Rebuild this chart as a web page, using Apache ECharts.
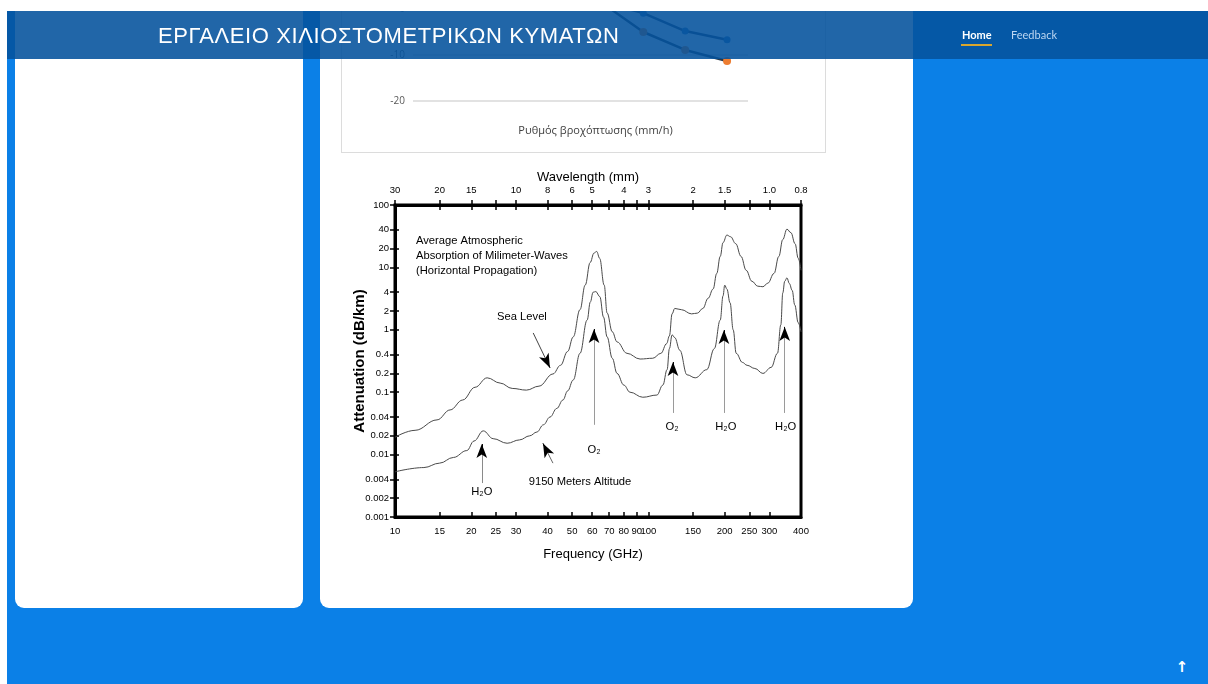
<!DOCTYPE html>
<html>
<head>
<meta charset="utf-8">
<script src="https://cdn.jsdelivr.net/npm/echarts@6/dist/echarts.min.js"></script>
<style>
html,body{margin:0;padding:0;width:1208px;height:684px;overflow:hidden;background:#0b80e7;}
#page{position:absolute;left:0;top:0;width:1208px;height:684px;overflow:hidden;background:#0b80e7;}
.card{position:absolute;background:#fff;border-radius:9px;}
#leftCard{left:15px;top:-100px;width:288px;height:708px;}
#midCard{left:320px;top:-300px;width:593px;height:908px;}
#miniBox{position:absolute;left:341px;top:-250px;width:483px;height:401px;border:1px solid #dcdcdc;background:#fff;}
#mini{position:absolute;left:0;top:0;width:483px;height:401px;}
#main{position:absolute;left:330px;top:160px;width:490px;height:410px;}
#header{position:absolute;left:7px;top:11px;width:1201px;height:48px;background:rgba(4,82,157,0.886);z-index:5;}
#title{position:absolute;left:151px;top:14px;line-height:22px;color:#fff;font-family:'Liberation Sans',Arial,sans-serif;font-size:22px;letter-spacing:0.6px;white-space:nowrap;}
#navHome{position:absolute;left:955px;top:17px;font-family:Lato,sans-serif;font-size:11px;font-weight:bold;color:#fff;line-height:14px;}
#navLine{position:absolute;left:954px;top:33px;width:31px;height:2px;background:#d9a62e;}
#navFeed{position:absolute;left:1004px;top:17px;font-family:Lato,sans-serif;font-size:11px;color:#bcd6f2;line-height:14px;}
#topWhite{position:absolute;left:0;top:0;width:1208px;height:11px;background:#fff;z-index:9;}
#leftWhite{position:absolute;left:0;top:0;width:7px;height:684px;background:#fff;z-index:9;}
#toTop{position:absolute;left:1173px;top:657px;width:18px;height:20px;text-align:center;color:#fff;font-family:'DejaVu Sans',sans-serif;font-weight:bold;font-size:15px;line-height:20px;}
</style>
</head>
<body>
<div id="page">
  <div class="card" id="leftCard"></div>
  <div class="card" id="midCard"></div>
  <div id="miniBox"><div id="mini"></div></div>
  <div id="main"></div>
  <div id="header">
    <div id="title">ΕΡΓΑΛΕΙΟ ΧΙΛΙΟΣΤΟΜΕΤΡΙΚΩΝ ΚΥΜΑΤΩΝ</div>
    <div id="navHome">Home</div>
    <div id="navLine"></div>
    <div id="navFeed">Feedback</div>
  </div>
  <div id="toTop">↑</div>
  <div id="topWhite"></div>
  <div id="leftWhite"></div>
</div>
<script>
// ---------- data: main chart ----------
const freqTicks = [10, 15, 20, 25, 30, 40, 50, 60, 70, 80, 90, 100, 150, 200, 250, 300, 400];
const attenTicks = [0.001, 0.002, 0.004, 0.01, 0.02, 0.04, 0.1, 0.2, 0.4, 1, 2, 4, 10, 20, 40, 100];
const wavelengthLabelFreqs = [10, 15, 20, 30, 40, 50, 60, 80, 100, 150, 200, 300, 400];
const wavelengthLabels = ['30', '20', '15', '10', '8', '6', '5', '4', '3', '2', '1.5', '1.0', '0.8'];

const seaLevel = [
  [10, 0.019], [12, 0.0245], [14.65, 0.036], [16.5, 0.052], [18.5, 0.075], [20.7, 0.12],
  [23.1, 0.17], [26, 0.14], [29, 0.115], [33, 0.108], [37, 0.125], [42, 0.196], [45, 0.27],
  [48, 0.45], [50.5, 0.77], [53.7, 2.1], [56.3, 5.2], [58.9, 12], [61, 17], [62.5, 18],
  [64.2, 14], [66.9, 5.2], [68.7, 1.86], [72, 0.93], [75.2, 0.64], [82.3, 0.42], [92.7, 0.34],
  [104, 0.35], [112, 0.42], [118, 0.6], [121, 0.8], [124, 1.8], [127, 2.2], [135, 2.1],
  [148, 1.8], [156, 1.85], [164, 2.2], [172, 3.2], [180, 4.5], [186, 8], [192, 15], [197, 25],
  [204, 33], [211, 31], [221, 24], [232, 15], [243, 9], [256, 6], [270, 5.0], [283, 4.9],
  [296, 5.6], [313, 8], [327, 15], [339, 28], [352, 41], [365, 36], [379, 24], [390, 14], [400, 9]
];
const altitude9150 = [
  [10, 0.0053], [13, 0.0062], [15, 0.0073], [17, 0.009], [19.2, 0.0116], [20.5, 0.0165],
  [22.3, 0.024], [24.4, 0.018], [27.7, 0.0152], [31, 0.0172], [34, 0.02], [36.3, 0.023],
  [38.5, 0.03], [40.9, 0.04], [43.5, 0.055], [46, 0.075], [48, 0.105], [50.5, 0.157],
  [53.7, 0.42], [57.3, 1.43], [59, 2.8], [60.5, 4.0], [62, 4.1], [64.3, 3.4], [66.5, 1.6],
  [68.7, 0.77], [72, 0.35], [75.2, 0.2], [80, 0.13], [84.6, 0.1], [95, 0.083], [108, 0.09],
  [114, 0.13], [118.5, 0.23], [121, 0.5], [124, 0.83], [127, 0.75], [133, 0.47], [142, 0.19],
  [153, 0.17], [170, 0.23], [182, 0.5], [192, 1.43], [197, 3.5], [200, 5.2], [204, 4.5],
  [210, 2.7], [216, 1.0], [222, 0.42], [235, 0.3], [245, 0.27], [263, 0.24], [283, 0.2],
  [305, 0.25], [323, 0.42], [333, 1.2], [339, 3.9], [345, 6], [352, 6.8], [360, 5.5],
  [369, 4.3], [378, 2.5], [390, 1.3], [400, 0.93]
];

// annotations: text anchored at [GHz, dB/km]
const notes = [
  {at: [12.1, 35.6], text: 'Average Atmospheric\nAbsorption of Milimeter-Waves\n(Horizontal Propagation)', align: 'left', vAlign: 'top'},
  {at: [31.7, 1.6], text: 'Sea Level'},
  {at: [53.7, 0.00364], text: '9150 Meters Altitude'},
  {at: [22, 0.00252], text: 'H₂O'},
  {at: [61, 0.0119], text: 'O₂'},
  {at: [124, 0.0277], text: 'O₂'},
  {at: [202, 0.0277], text: 'H₂O'},
  {at: [348, 0.0277], text: 'H₂O'}
];
// arrows: tail -> tip, [GHz, dB/km]
const arrows = [
  {from: [22, 0.0035], to: [22, 0.0191], color: '#8a8a8a'},
  {from: [61, 0.030], to: [61, 1.33], color: '#9a9a9a'},
  {from: [125, 0.0465], to: [125, 0.394], color: '#9a9a9a'},
  {from: [198.6, 0.0465], to: [198.6, 1.28], color: '#9a9a9a'},
  {from: [345, 0.0465], to: [345, 1.44], color: '#9a9a9a'},
  {from: [35.1, 0.89], to: [42, 0.196], color: '#444'},
  {from: [42, 0.0073], to: [37.3, 0.019], color: '#666'}
];

// ---------- data: partially hidden rainfall chart ----------
const rainCategories = ['1', '2', '3', '4', '5', '6', '7', '8'];
const rainSeriesA = [null, null, null, null, 1.5, -0.9, -4.8, -6.7];
const rainSeriesB = [null, null, null, null, 1.4, -5.0, -8.9, -11.3];

// ---------- main chart ----------
const F = "'Liberation Sans',Arial,sans-serif";
const G = {left: 65, top: 45, width: 406, height: 312};
const pxDecX = G.width / Math.log10(400 / 10);
const pxDecY = G.height / 5;

function wl(v) {
  for (let i = 0; i < wavelengthLabelFreqs.length; i++) {
    if (Math.abs(wavelengthLabelFreqs[i] - v) / v < 1e-6) return wavelengthLabels[i];
  }
  return '';
}
function backOff(a, b, px) {
  const dx = Math.log10(b[0] / a[0]) * pxDecX, dy = Math.log10(b[1] / a[1]) * pxDecY;
  const L = Math.sqrt(dx * dx + dy * dy);
  const t = 1 - px / L;
  return [a[0] * Math.pow(b[0] / a[0], t), a[1] * Math.pow(b[1] / a[1], t)];
}
const mlData = [];
arrows.forEach(a => {
  const P = backOff(a.from, a.to, 7);
  const Q = backOff(a.from, a.to, 11);
  mlData.push([{coord: a.from, symbol: 'none', lineStyle: {color: a.color, width: 1, type: 'solid'}},
               {coord: P, symbol: 'none'}]);
  mlData.push([{coord: Q, symbol: 'none', lineStyle: {color: '#000', width: 1, type: 'solid'}},
               {coord: P, symbol: 'arrow', symbolSize: [8, 14]}]);
});
const mpData = notes.map(n => ({
  coord: n.at, symbol: 'circle', symbolSize: 0,
  label: {show: true, position: 'inside', formatter: n.text, color: '#000', fontFamily: F, fontSize: 11.2,
          lineHeight: 15, align: n.align || 'center', verticalAlign: n.vAlign || 'middle'}
}));

const chart = echarts.init(document.getElementById('main'));
const axisLineStyle = {color: '#000', width: 3};
const tickStyle = {color: '#000', width: 1.5};
const labelStyle = {color: '#000', fontFamily: F, fontSize: 9.5};
chart.setOption({
  animation: false,
  backgroundColor: '#fff',
  grid: Object.assign({show: true, borderColor: '#000', borderWidth: 3, backgroundColor: 'transparent',
         containLabel: false, outerBoundsMode: 'none'}, G),
  xAxis: [
    {type: 'log', logBase: 10, min: 10, max: 400, position: 'bottom',
     axisLine: {show: true, onZero: false, lineStyle: axisLineStyle},
     axisTick: {show: true, inside: true, length: 5, customValues: freqTicks, lineStyle: tickStyle},
     axisLabel: Object.assign({show: true, customValues: freqTicks, margin: 9, formatter: v => String(v)}, labelStyle),
     splitLine: {show: false}, minorTick: {show: false},
     name: 'Frequency (GHz)', nameLocation: 'middle', nameGap: 31, nameMoveOverlap: false,
     nameTextStyle: {color: '#000', fontFamily: F, fontSize: 13, padding: [0, 10, 0, 0]}},
    {type: 'log', logBase: 10, min: 10, max: 400, position: 'top',
     axisLine: {show: true, onZero: false, lineStyle: axisLineStyle},
     axisTick: {show: true, inside: false, length: 5, customValues: freqTicks, lineStyle: tickStyle},
     axisLabel: Object.assign({show: true, customValues: wavelengthLabelFreqs, margin: 10, formatter: v => wl(v)}, labelStyle),
     splitLine: {show: false},
     name: 'Wavelength (mm)', nameLocation: 'middle', nameGap: 21, nameMoveOverlap: false,
     nameTextStyle: {color: '#000', fontFamily: F, fontSize: 13, padding: [0, 20, 0, 0]}},
    {type: 'log', logBase: 10, min: 10, max: 400, position: 'top',
     axisLine: {show: false},
     axisTick: {show: true, inside: true, length: 5, customValues: freqTicks, lineStyle: tickStyle},
     axisLabel: {show: false}, splitLine: {show: false}}
  ],
  yAxis: [
    {type: 'log', logBase: 10, min: 0.001, max: 100, position: 'left',
     axisLine: {show: true, onZero: false, lineStyle: axisLineStyle},
     axisTick: {show: true, inside: false, length: 5, customValues: attenTicks, lineStyle: tickStyle},
     axisLabel: Object.assign({show: true, customValues: attenTicks, margin: 6, formatter: v => String(v)}, labelStyle),
     splitLine: {show: false},
     name: 'Attenuation (dB/km)', nameLocation: 'middle', nameGap: 28, nameRotate: 90, nameMoveOverlap: false,
     nameTextStyle: {color: '#000', fontFamily: F, fontSize: 15, fontWeight: 'bold'}},
    {type: 'log', logBase: 10, min: 0.001, max: 100, position: 'left',
     axisLine: {show: false},
     axisTick: {show: true, inside: true, length: 4, customValues: attenTicks, lineStyle: tickStyle},
     axisLabel: {show: false}, splitLine: {show: false}}
  ],
  series: [
    {name: 'Sea Level', type: 'line', data: seaLevel, smooth: 0.4, smoothMonotone: 'x', showSymbol: false,
     lineStyle: {color: '#4a4a4a', width: 1}, silent: true,
     markLine: {silent: true, symbol: ['none', 'none'], label: {show: false}, animation: false, data: mlData}},
    {name: '9150 Meters Altitude', type: 'line', data: altitude9150, smooth: 0.4, smoothMonotone: 'x', showSymbol: false,
     lineStyle: {color: '#4a4a4a', width: 1}, silent: true,
     markPoint: {silent: true, animation: false, data: mpData}}
  ]
});

// ---------- partially hidden rainfall chart ----------
const mini = echarts.init(document.getElementById('mini'));
mini.setOption({
  animation: false,
  grid: {left: 71, top: 166, width: 335, height: 184, containLabel: false, outerBoundsMode: 'none'},
  xAxis: {type: 'category', data: rainCategories, boundaryGap: true,
          axisLine: {show: true, lineStyle: {color: '#d9d9d9', width: 1.5}}, axisTick: {show: false},
          axisLabel: {show: false},
          name: 'Ρυθμός βροχόπτωσης (mm/h)', nameLocation: 'middle', nameGap: 24,
          nameTextStyle: {color: '#404040', fontFamily: "'Open Sans',sans-serif", fontSize: 11, padding: [0, 0, 0, 30]}},
  yAxis: {type: 'value', min: -20, max: 20, interval: 10,
          axisLine: {show: false}, axisTick: {show: false},
          axisLabel: {color: '#595959', fontFamily: "'Open Sans',sans-serif", fontSize: 10, margin: 8},
          splitLine: {show: true, lineStyle: {color: '#d9d9d9', width: 1.5}}},
  series: [
    {type: 'line', data: rainSeriesA, symbol: 'circle', symbolSize: 7, connectNulls: false,
     lineStyle: {color: '#2a3f5f', width: 2.5}, itemStyle: {color: '#2e75b6'}},
    {type: 'line', data: rainSeriesB, symbol: 'circle', symbolSize: 8, connectNulls: false,
     lineStyle: {color: '#2a3a4a', width: 2.5}, itemStyle: {color: '#ed7d31'}}
  ]
});
</script>
</body>
</html>
